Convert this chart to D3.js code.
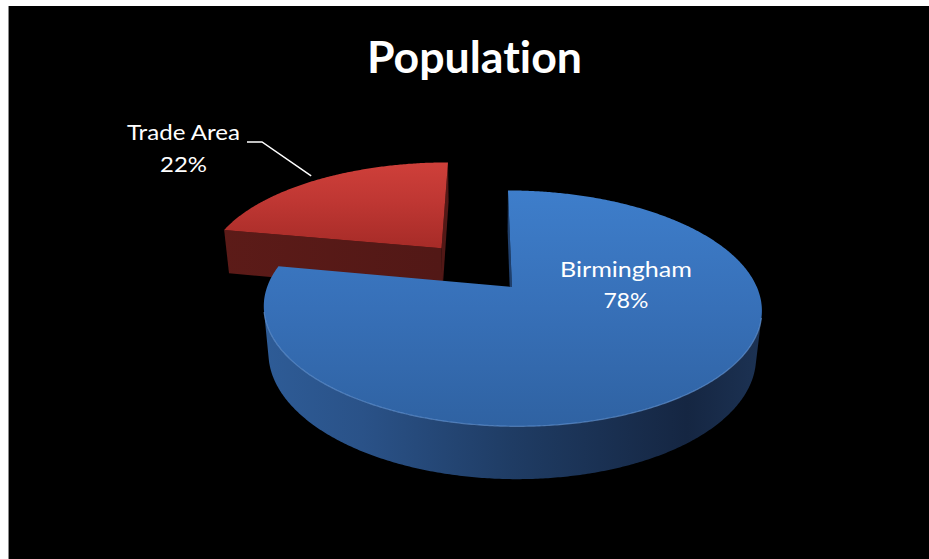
<!DOCTYPE html>
<html><head><meta charset="utf-8">
<script src="https://cdn.jsdelivr.net/npm/d3@7"></script>
<style>html,body{margin:0;padding:0;background:#fff;overflow:hidden}
text{font-variant-ligatures:none;font-feature-settings:"liga" 0,"clig" 0;}</style>
</head><body>
<svg id="c" width="929" height="559"></svg>
<script>
// ---- data ----
const title = "Population";
const categories = ["Birmingham", "Trade Area"];
const values = [78, 22];
const explodedCategory = "Trade Area";

// ---- setup ----
const svg = d3.select("#c");
svg.append("rect").attr("x", 9).attr("y", 6).attr("width", 920).attr("height", 553).attr("fill", "#000");
svg.append("line").attr("x1", 8.5).attr("x2", 8.5).attr("y1", 6).attr("y2", 559).attr("stroke", "#8a8a8a").attr("stroke-width", 1);

const defs = svg.append("defs");
function linGrad(id, x1, y1, x2, y2, stops) {
  const g = defs.append("linearGradient").attr("id", id).attr("gradientUnits", "userSpaceOnUse")
    .attr("x1", x1).attr("y1", y1).attr("x2", x2).attr("y2", y2);
  stops.forEach(s => g.append("stop").attr("offset", s[0]).attr("stop-color", s[1]));
  return "url(#" + id + ")";
}

// ---- 3D perspective projection ----
const px = 486, cy = 287;
const sinP = 0.4658, cosP = Math.sqrt(1 - sinP * sinP);
const D = 4.88, F = 1195, thick = 0.218, explodeDist = 0.47;
const camX = -0.106, camY = -D * cosP;
const xs = d3.scaleLinear().domain([0, 1]).range([0, F]);
function proj(X, Y, Z) {
  const d = D + Y * cosP - Z * sinP;
  const up = Y * sinP + Z * cosP;
  return [px + xs(X - camX) / d, cy - xs(up) / d];
}

const pie = d3.pie().sort(null).value(d => d);
const arcs = pie(values);
const total = d3.sum(values);

const styles = {
  "Birmingham": {
    top: linGrad("bTop", 0, 188, 0, 428, [[0, "#3e7ecb"], [0.5, "#3770b8"], [1, "#2f62a2"]]),
    side: linGrad("bSide", 262, 0, 762, 0, [[0, "#2e5c97"], [0.2, "#2a5288"], [0.5, "#1f3c64"], [0.85, "#152642"], [1, "#1c3253"]]),
    cut: "#1f3f6c", rim: "rgba(110,160,225,0.6)"
  },
  "Trade Area": {
    top: linGrad("rTop", 0, 156, 0, 246, [[0, "#d1413b"], [0.5, "#bf3733"], [1, "#a82c28"]]),
    side: "#4e1614",
    cut: linGrad("rCut", 220, 0, 440, 0, [[0, "#5c1b18"], [1, "#521816"]]),
    rim: null
  }
};

const line = d3.line();
const slices = arcs.map((a, i) => {
  const name = categories[i];
  const mid = (a.startAngle + a.endAngle) / 2;
  const off = name === explodedCategory ? explodeDist : 0;
  return { a, i, name, mid, ox: off * Math.sin(mid), oy: off * Math.cos(mid) };
}).sort((p, q) => (q.oy + 0.3 * Math.cos(q.mid)) - (p.oy + 0.3 * Math.cos(p.mid)));

const gPie = svg.append("g");
slices.forEach(s => {
  const { a, ox, oy, name } = s;
  const st = styles[name];
  const rim = (t, z) => proj(ox + Math.sin(t), oy + Math.cos(t), z);
  const n = Math.max(8, Math.ceil((a.endAngle - a.startAngle) / (Math.PI / 360)));
  const ts = d3.range(n + 1).map(k => a.startAngle + (a.endAngle - a.startAngle) * k / n);
  const g = gPie.append("g");

  // outer side (visible part)
  const vis = t => (Math.sin(t) * (camX - ox - Math.sin(t)) + Math.cos(t) * (camY - oy - Math.cos(t))) > 0;
  let runs = [], cur = [];
  ts.forEach(t => { if (vis(t)) cur.push(t); else { if (cur.length > 1) runs.push(cur); cur = []; } });
  if (cur.length > 1) runs.push(cur);
  runs.forEach(r => {
    const pts = r.map(t => rim(t, 0)).concat(r.slice().reverse().map(t => rim(t, -thick)));
    g.append("path").attr("d", line(pts) + "Z").attr("fill", st.side);
  });

  // cut faces
  const faceVis = (nx, ny) => nx * (camX - ox) + ny * (camY - oy) > 0.001;
  const ts0 = a.startAngle, te = a.endAngle;
  const faces = [
    { t: ts0, n: [-Math.cos(ts0), Math.sin(ts0)] },
    { t: te, n: [Math.cos(te), -Math.sin(te)] }
  ];
  faces.forEach(f => {
    if (!faceVis(f.n[0], f.n[1])) return;
    const pts = [proj(ox, oy, 0), rim(f.t, 0), rim(f.t, -thick), proj(ox, oy, -thick)];
    g.append("path").attr("d", line(pts) + "Z").attr("fill", st.cut);
  });

  // top face
  const topPts = [proj(ox, oy, 0)].concat(ts.map(t => rim(t, 0)));
  g.append("path").attr("d", line(topPts) + "Z").attr("fill", st.top);

  // rim highlight
  if (st.rim) runs.forEach(r => {
    g.append("path").attr("d", line(r.map(t => rim(t, 0)))).attr("fill", "none")
      .attr("stroke", st.rim).attr("stroke-width", 1.2);
  });
  s.rimAt = rim;
});

// ---- labels ----
const font = "Lato, 'Open Sans', sans-serif";
svg.append("text").attr("x", 474.5).attr("y", 73).attr("text-anchor", "middle")
  .attr("font-family", font).attr("font-weight", 700).attr("font-size", 44).attr("fill", "#fff")
  .attr("textLength", 215).attr("lengthAdjust", "spacingAndGlyphs").text(title);

const pct = v => Math.round(v / total * 100) + "%";
function label(x, y1, y2, name, v, w1, w2) {
  const t = svg.append("g").attr("font-family", font).attr("font-size", 22).attr("fill", "#fff").attr("text-anchor", "middle");
  t.append("text").attr("x", x).attr("y", y1).attr("textLength", w1).attr("lengthAdjust", "spacingAndGlyphs").text(name);
  t.append("text").attr("x", x).attr("y", y2).attr("textLength", w2).attr("lengthAdjust", "spacingAndGlyphs").text(pct(v));
}
slices.forEach(s => {
  if (s.name === "Birmingham") {
    label(626, 277, 308, s.name, values[s.i], 132, 45);
  } else {
    label(183.5, 140, 172, s.name, values[s.i], 113, 47);
    const end = s.rimAt(s.mid, 0);
    svg.append("path").attr("d", line([[247, 142], [262, 142], [end[0] - 6, end[1] - 4]]))
      .attr("fill", "none").attr("stroke", "#fff").attr("stroke-width", 1.5);
  }
});
</script>
</body></html>
